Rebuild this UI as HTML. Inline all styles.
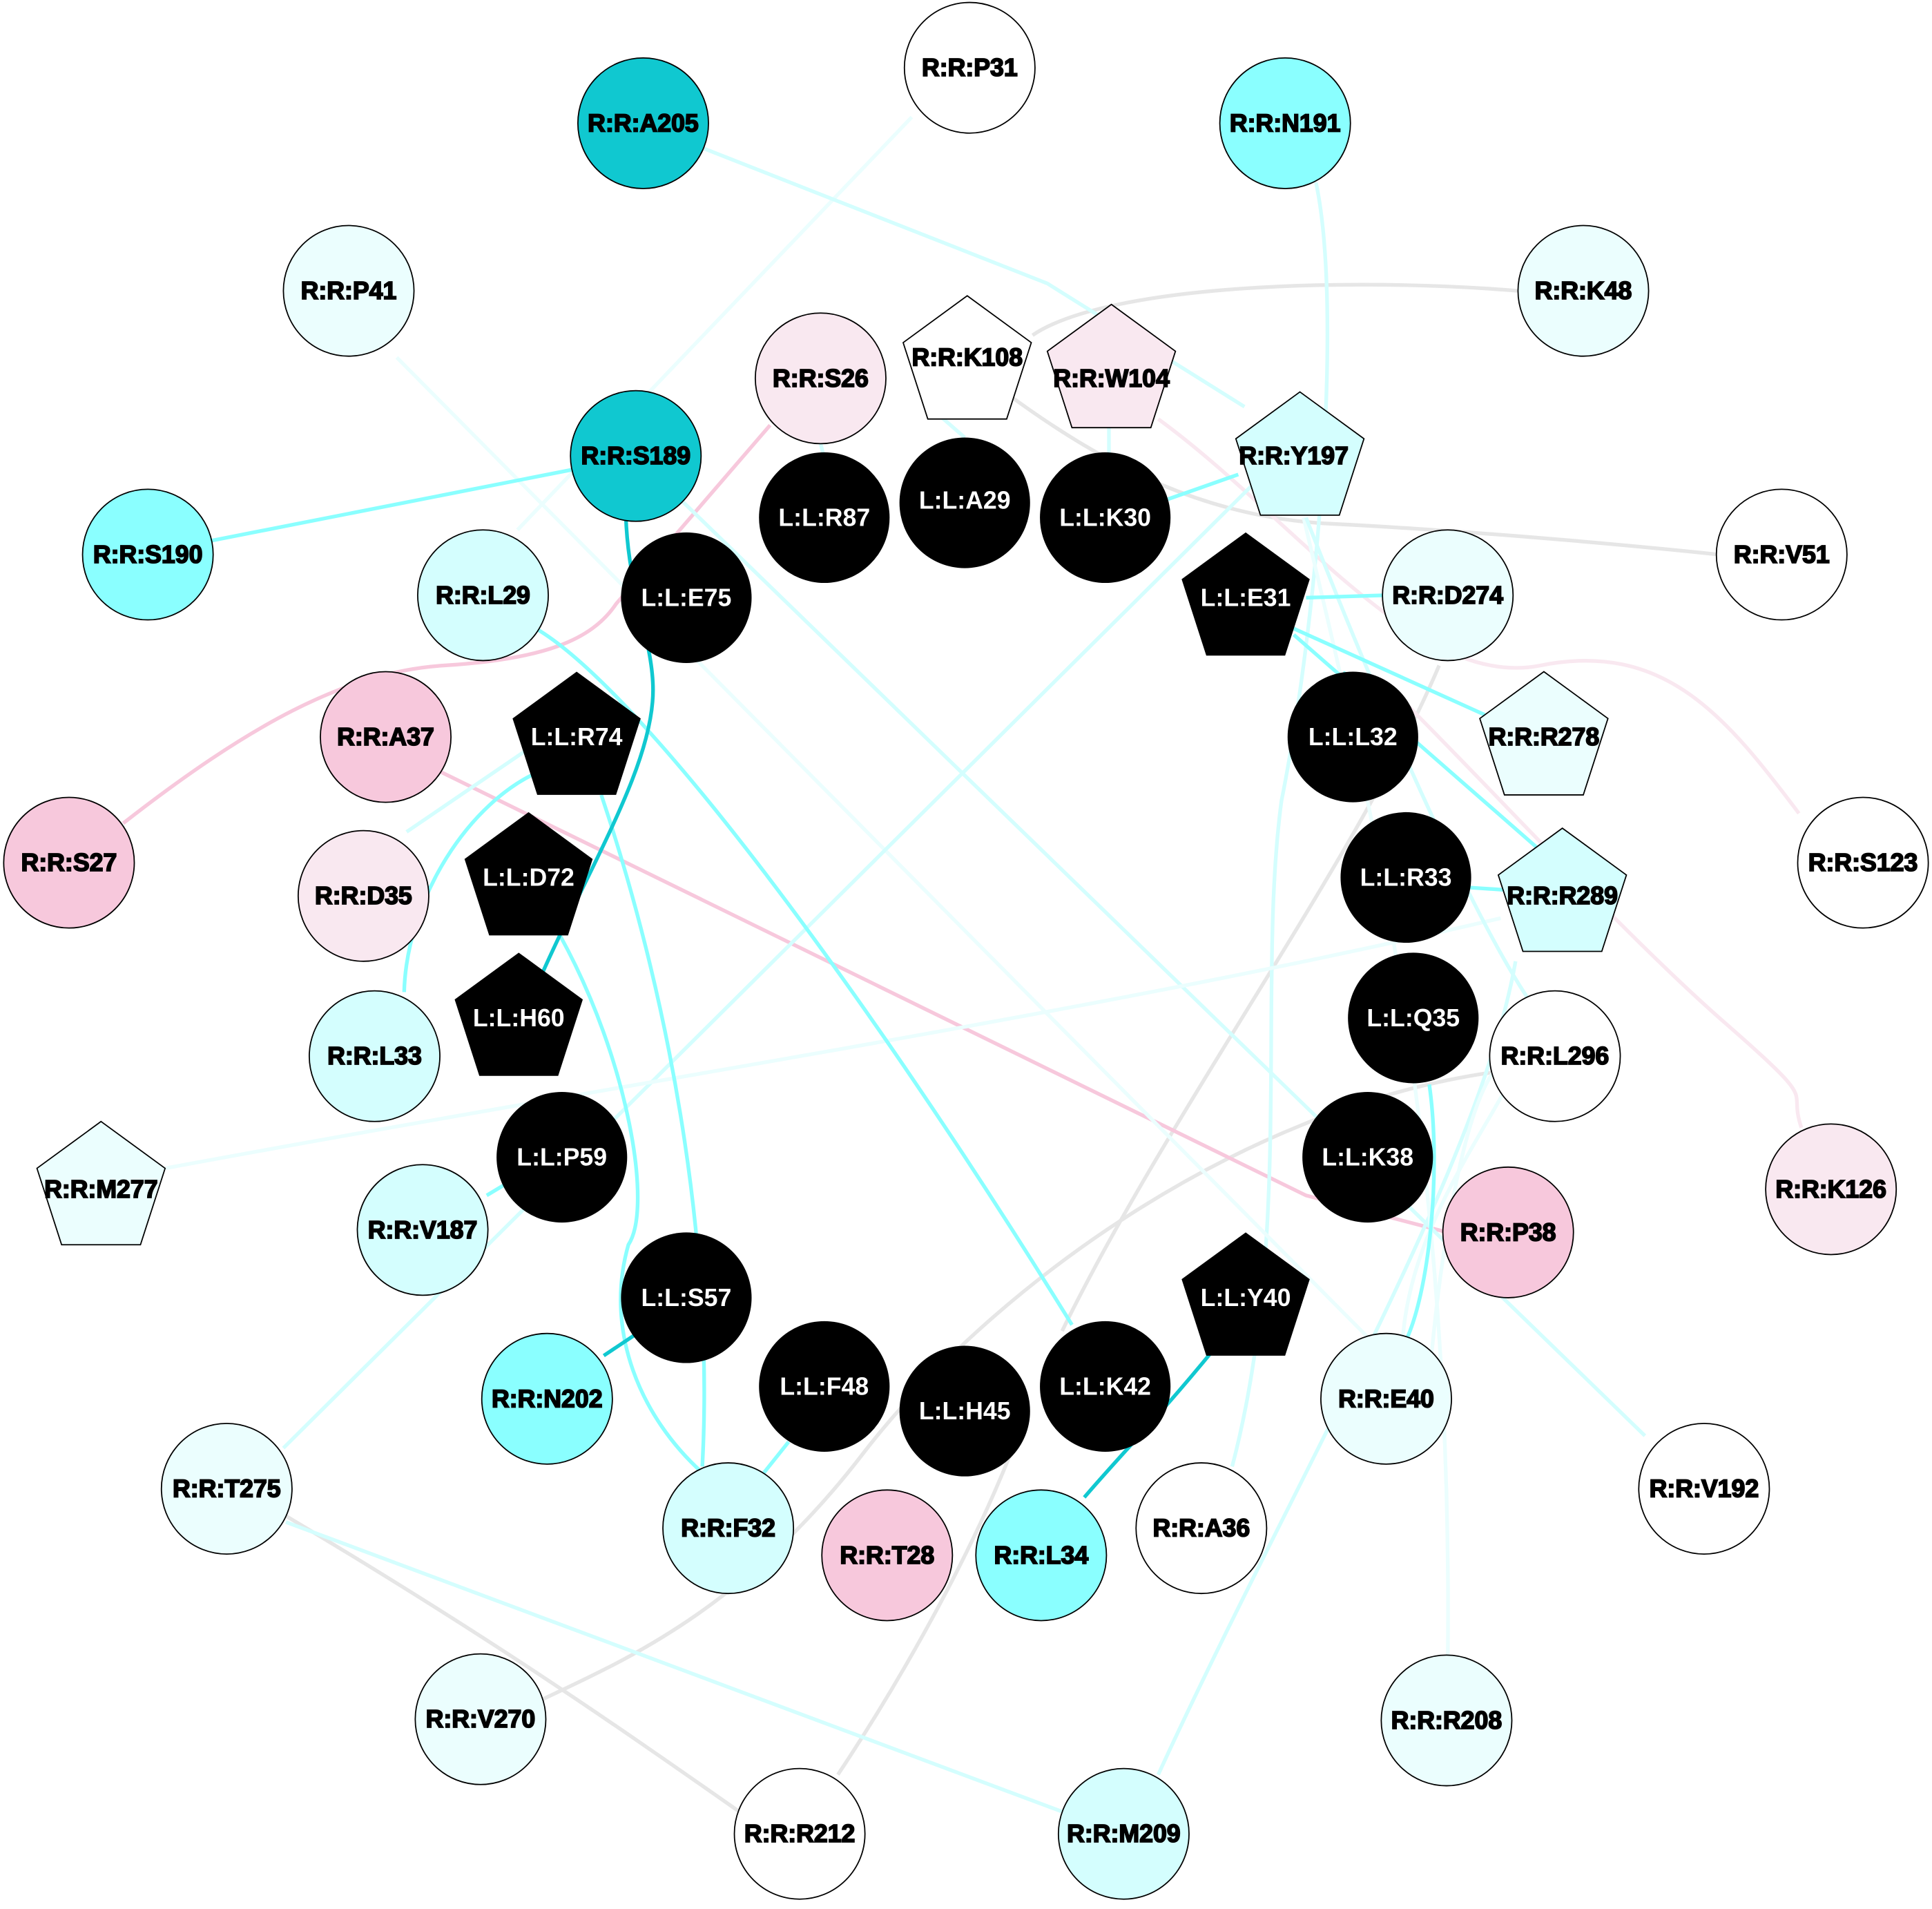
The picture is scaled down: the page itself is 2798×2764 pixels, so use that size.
<!DOCTYPE html>
<html><head><meta charset="utf-8"><style>
html,body{margin:0;padding:0;background:#fff}
svg{display:block}
text{font-family:"Liberation Sans",Arial,sans-serif;font-weight:bold;font-size:20px;text-anchor:middle;dominant-baseline:central}
.w{fill:#fff}
</style></head><body>
<svg width="2798" height="2764" viewBox="0 0 1568 1549" preserveAspectRatio="none" xmlns="http://www.w3.org/2000/svg">
<defs>
<polygon id="pent" points="0,-55 52,-17 32,45 -32,45 -52,-17"/>
</defs>
<g fill="none" stroke-width="3">
<!-- gray edges -->
<path d="M1232,236 C1100,225 900,230 838,272" stroke="#e6e6e6"/>
<path d="M818,320 C900,380 980,420 1080,425 S1300,440 1395,450" stroke="#e6e6e6"/>
<path d="M1168,540 C1100,700 950,900 862,1080" stroke="#e6e6e6"/>
<path d="M1212,870 C1000,900 800,1050 700,1180 S500,1350 438,1380" stroke="#e6e6e6"/>
<path d="M232,1230 C400,1330 500,1400 600,1470" stroke="#e6e6e6"/>
<path d="M680,1440 C720,1380 780,1280 820,1180" stroke="#e6e6e6"/>
<!-- pink edges -->
<path d="M100,668 C200,590 280,545 360,540 S480,520 500,490 L625,345" stroke="#f7c8dc"/>
<path d="M355,625 L1060,970 L1175,1000" stroke="#f7c8dc"/>
<path d="M940,340 C1050,420 1150,560 1250,540 S1400,580 1460,660" stroke="#f9e8f0"/>
<path d="M1140,570 C1220,650 1320,760 1400,830 S1450,880 1462,915" stroke="#f9e8f0"/>
<!-- light cyan edges -->
<path d="M740,95 L420,430" stroke="#ebfefe"/>
<path d="M570,120 L850,230 L1010,330" stroke="#d4fefe"/>
<path d="M1068,148 C1090,250 1070,500 1040,650 C1020,800 1050,1000 1000,1190" stroke="#d4fefe"/>
<path d="M322,290 L1110,1085" stroke="#ebfefe"/>
<path d="M552,405 L1335,1165" stroke="#d4fefe"/>
<path d="M230,1175 L1020,390" stroke="#d4fefe"/>
<path d="M134,948 C500,880 900,820 1218,745" stroke="#ebfefe"/>
<path d="M232,1235 L862,1470" stroke="#d4fefe"/>
<path d="M940,1440 C1050,1200 1200,950 1230,780" stroke="#d4fefe"/>
<path d="M1058,420 C1100,600 1180,900 1175,1345" stroke="#ebfefe"/>
<path d="M1060,420 C1130,600 1200,750 1240,810" stroke="#d4fefe"/>
<path d="M1160,1120 C1170,1000 1190,900 1212,870" stroke="#ebfefe"/>
<path d="M1140,1140 C1120,1000 1230,900 1245,830" stroke="#ebfefe"/>
<path d="M760,335 L783,355" stroke="#d4fefe"/>
<path d="M900,340 L900,368" stroke="#d4fefe"/>
<path d="M666,360 L668,368" stroke="#d4fefe"/>
<path d="M330,675 L440,600" stroke="#d4fefe"/>
<!-- cyan edges -->
<path d="M165,440 L470,380" stroke="#8affff"/>
<path d="M948,405 L1005,385" stroke="#8affff"/>
<path d="M1060,485 L1125,483" stroke="#8affff"/>
<path d="M1050,510 L1205,580" stroke="#8affff"/>
<path d="M1050,515 L1250,690" stroke="#8affff"/>
<path d="M1190,720 L1220,722" stroke="#8affff"/>
<path d="M435,510 C520,560 700,800 870,1075" stroke="#8affff"/>
<path d="M440,625 C380,650 330,730 328,805" stroke="#8affff"/>
<path d="M488,645 C540,800 580,1000 570,1190" stroke="#8affff"/>
<path d="M455,760 C510,860 530,980 510,1010 C490,1080 520,1150 570,1195" stroke="#8affff"/>
<path d="M420,955 L395,970" stroke="#8affff"/>
<path d="M640,1170 L620,1195" stroke="#8affff"/>
<path d="M1160,880 C1170,950 1160,1050 1140,1090" stroke="#8affff"/>
<path d="M1060,580 C1080,560 1090,550 1092,545" stroke="#8affff"/>
<!-- dark cyan -->
<path d="M508,420 C510,480 530,520 530,560 C530,620 480,700 440,790" stroke="#10c8d0"/>
<path d="M490,1100 L520,1080" stroke="#10c8d0"/>
<path d="M985,1095 C940,1150 910,1180 880,1215" stroke="#10c8d0"/>
</g>
<g stroke="#000" stroke-width="1">
<circle cx="787" cy="55" r="53" fill="#fff"/><text x="787" y="55">R:R:P31</text>
<circle cx="522" cy="100" r="53" fill="#10c8d0"/><text x="522" y="100">R:R:A205</text>
<circle cx="1043" cy="100" r="53" fill="#8affff"/><text x="1043" y="100">R:R:N191</text>
<circle cx="283" cy="236" r="53" fill="#ebfefe"/><text x="283" y="236">R:R:P41</text>
<circle cx="1285" cy="236" r="53" fill="#ebfefe"/><text x="1285" y="236">R:R:K48</text>
<circle cx="666" cy="307" r="53" fill="#f9e8f0"/><text x="666" y="307">R:R:S26</text>
<use href="#pent" x="785" y="295" fill="#fff"/><text x="785" y="290">R:R:K108</text>
<use href="#pent" x="902" y="302" fill="#f9e8f0"/><text x="902" y="307">R:R:W104</text>
<circle cx="516" cy="370" r="53" fill="#10c8d0"/><text x="516" y="370">R:R:S189</text>
<use href="#pent" x="1055" y="373" fill="#d4fefe"/><text x="1050" y="370">R:R:Y197</text>
<circle cx="120" cy="450" r="53" fill="#8affff"/><text x="120" y="450">R:R:S190</text>
<circle cx="1446" cy="450" r="53" fill="#fff"/><text x="1446" y="450">R:R:V51</text>
<circle cx="392" cy="483" r="53" fill="#d4fefe"/><text x="392" y="483">R:R:L29</text>
<circle cx="1175" cy="483" r="53" fill="#ebfefe"/><text x="1175" y="483">R:R:D274</text>
<circle cx="313" cy="598" r="53" fill="#f7c8dc"/><text x="313" y="598">R:R:A37</text>
<use href="#pent" x="1253" y="600" fill="#ebfefe"/><text x="1253" y="598">R:R:R278</text>
<circle cx="56" cy="700" r="53" fill="#f7c8dc"/><text x="56" y="700">R:R:S27</text>
<circle cx="1512" cy="700" r="53" fill="#fff"/><text x="1512" y="700">R:R:S123</text>
<circle cx="295" cy="727" r="53" fill="#f9e8f0"/><text x="295" y="727">R:R:D35</text>
<use href="#pent" x="1268" y="727" fill="#d4fefe"/><text x="1268" y="727">R:R:R289</text>
<circle cx="304" cy="857" r="53" fill="#d4fefe"/><text x="304" y="857">R:R:L33</text>
<circle cx="1262" cy="857" r="53" fill="#fff"/><text x="1262" y="857">R:R:L296</text>
<use href="#pent" x="82" y="965" fill="#ebfefe"/><text x="82" y="965">R:R:M277</text>
<circle cx="1486" cy="965" r="53" fill="#f9e8f0"/><text x="1486" y="965">R:R:K126</text>
<circle cx="343" cy="998" r="53" fill="#d4fefe"/><text x="343" y="998">R:R:V187</text>
<circle cx="1224" cy="1000" r="53" fill="#f7c8dc"/><text x="1224" y="1000">R:R:P38</text>
<circle cx="444" cy="1135" r="53" fill="#8affff"/><text x="444" y="1135">R:R:N202</text>
<circle cx="1125" cy="1135" r="53" fill="#ebfefe"/><text x="1125" y="1135">R:R:E40</text>
<circle cx="184" cy="1208" r="53" fill="#ebfefe"/><text x="184" y="1208">R:R:T275</text>
<circle cx="1383" cy="1208" r="53" fill="#fff"/><text x="1383" y="1208">R:R:V192</text>
<circle cx="591" cy="1240" r="53" fill="#d4fefe"/><text x="591" y="1240">R:R:F32</text>
<circle cx="720" cy="1262" r="53" fill="#f7c8dc"/><text x="720" y="1262">R:R:T28</text>
<circle cx="845" cy="1262" r="53" fill="#8affff"/><text x="845" y="1262">R:R:L34</text>
<circle cx="975" cy="1240" r="53" fill="#fff"/><text x="975" y="1240">R:R:A36</text>
<circle cx="390" cy="1395" r="53" fill="#ebfefe"/><text x="390" y="1395">R:R:V270</text>
<circle cx="1174" cy="1396" r="53" fill="#ebfefe"/><text x="1174" y="1396">R:R:R208</text>
<circle cx="649" cy="1488" r="53" fill="#fff"/><text x="649" y="1488">R:R:R212</text>
<circle cx="912" cy="1488" r="53" fill="#d4fefe"/><text x="912" y="1488">R:R:M209</text>
</g>
<g fill="#000">
<circle cx="669" cy="420" r="53"/><text class="w" x="669" y="420">L:L:R87</text>
<circle cx="783" cy="408" r="53"/><text class="w" x="783" y="406">L:L:A29</text>
<circle cx="897" cy="420" r="53"/><text class="w" x="897" y="420">L:L:K30</text>
<circle cx="557" cy="485" r="53"/><text class="w" x="557" y="485">L:L:E75</text>
<use href="#pent" x="1011" y="487"/><text class="w" x="1011" y="485">L:L:E31</text>
<use href="#pent" x="468" y="600"/><text class="w" x="468" y="598">L:L:R74</text>
<circle cx="1098" cy="598" r="53"/><text class="w" x="1098" y="598">L:L:L32</text>
<use href="#pent" x="429" y="714"/><text class="w" x="429" y="712">L:L:D72</text>
<circle cx="1141" cy="712" r="53"/><text class="w" x="1141" y="712">L:L:R33</text>
<use href="#pent" x="421" y="828"/><text class="w" x="421" y="826">L:L:H60</text>
<circle cx="1147" cy="826" r="53"/><text class="w" x="1147" y="826">L:L:Q35</text>
<circle cx="456" cy="939" r="53"/><text class="w" x="456" y="939">L:L:P59</text>
<circle cx="1110" cy="939" r="53"/><text class="w" x="1110" y="939">L:L:K38</text>
<circle cx="557" cy="1053" r="53"/><text class="w" x="557" y="1053">L:L:S57</text>
<use href="#pent" x="1011" y="1055"/><text class="w" x="1011" y="1053">L:L:Y40</text>
<circle cx="669" cy="1125" r="53"/><text class="w" x="669" y="1125">L:L:F48</text>
<circle cx="783" cy="1145" r="53"/><text class="w" x="783" y="1145">L:L:H45</text>
<circle cx="897" cy="1125" r="53"/><text class="w" x="897" y="1125">L:L:K42</text>
</g>
</svg>
</body></html>
